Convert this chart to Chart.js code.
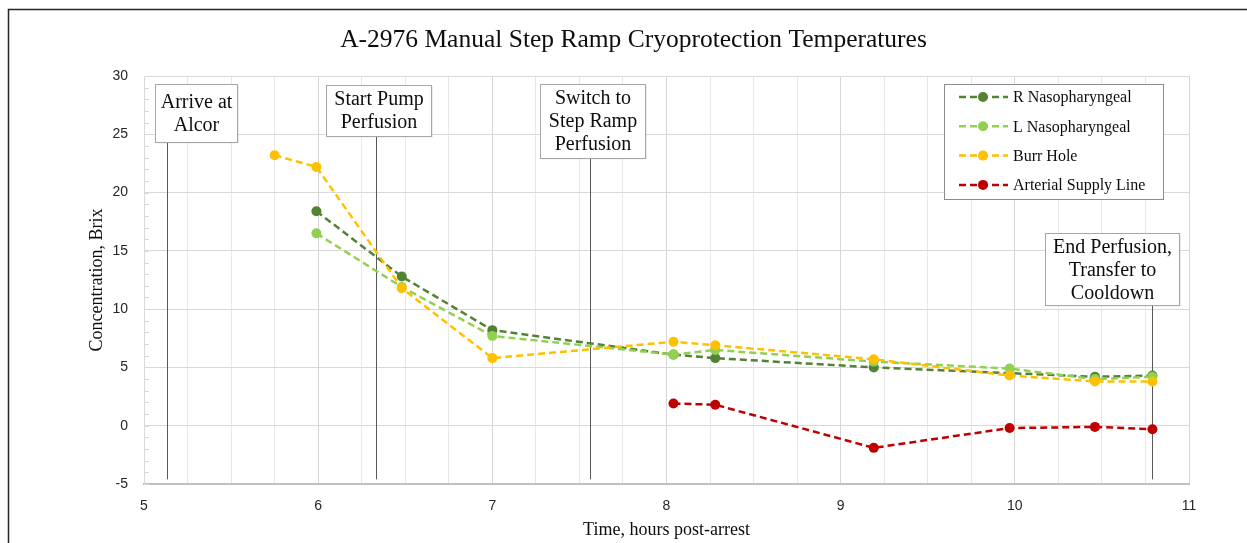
<!DOCTYPE html>
<html>
<head>
<meta charset="utf-8">
<script src="https://cdn.jsdelivr.net/npm/chart.js@4.4.1/dist/chart.umd.min.js"></script>
<style>
  html, body { margin: 0; padding: 0; background: #fff; }
  #wrap { width: 1247px; height: 543px; position: relative; }
</style>
</head>
<body>
<div id="wrap"><canvas id="chart" width="1247" height="543"></canvas></div>
<script>
// Data
const times = [5.75, 5.99, 6.48, 7.0, 8.04, 8.28, 9.19, 9.97, 10.46, 10.79];
const rNaso = [null, 18.4, 12.8, 8.2, 6.1, 5.8, 5.0, null, 4.2, 4.3];
const lNaso = [null, 16.5, 11.9, 7.7, 6.1, 6.5, 5.5, 4.9, 4.0, 4.2];
const burrHole = [23.2, 22.2, 11.8, 5.8, 7.2, 6.9, 5.7, 4.3, 3.8, 3.8];
const arterial = [null, null, null, null, 1.9, 1.8, -1.9, -0.2, -0.1, -0.3];
const seriesNames = ['R Nasopharyngeal', 'L Nasopharyngeal', 'Burr Hole', 'Arterial Supply Line'];
const seriesColors = ['#548235', '#92D050', '#FFC000', '#C00000'];

const eventTimes = [5.13, 6.33, 7.56, 10.79];
const eventLabels = [
  ['Arrive at', 'Alcor'],
  ['Start Pump', 'Perfusion'],
  ['Switch to', 'Step Ramp', 'Perfusion'],
  ['End Perfusion,', 'Transfer to', 'Cooldown']
];
const xTicks = [5, 6, 7, 8, 9, 10, 11];
const yTicks = [-5, 0, 5, 10, 15, 20, 25, 30];

const SERIF = '"Liberation Serif", "Times New Roman", serif';
const SANS = '"Liberation Sans", Arial, sans-serif';

function toPoints(vals) {
  return times.map((t, i) => ({ x: t, y: vals[i] })).filter(p => p.y !== null);
}

const allSeries = [rNaso, lNaso, burrHole, arterial];
const datasets = allSeries.map((vals, i) => ({
  label: seriesNames[i],
  data: toPoints(vals),
  showLine: true,
  borderColor: seriesColors[i],
  backgroundColor: seriesColors[i],
  borderWidth: 2.5,
  borderDash: [7, 4],
  pointRadius: 5,
  pointHoverRadius: 5,
  pointBorderWidth: 0,
  tension: 0,
  order: 4 - i
}));

// box layout for the event callouts (pixels)
const boxStyle = [
  { dx: 28, top: 84, padTop: 19, padBottom: 16, w: 82 },
  { dx: 1.5, top: 85, padTop: 15, padBottom: 13, w: 105 },
  { dx: 1.5, top: 84, padTop: 15, padBottom: 13, w: 105 },
  { dx: -41, top: 233, padTop: 15, padBottom: 11, w: 134 }
];
const LINE_H = 23;

const framePlugin = {
  id: 'frame',
  beforeDraw(chart) {
    const ctx = chart.ctx;
    ctx.save();
    ctx.fillStyle = '#fff';
    ctx.fillRect(0, 0, chart.width, chart.height);
    ctx.strokeStyle = '#262626';
    ctx.lineWidth = 1.5;
    ctx.beginPath();
    ctx.moveTo(8.5, chart.height);
    ctx.lineTo(8.5, 9.5);
    ctx.lineTo(chart.width, 9.5);
    ctx.stroke();
    ctx.restore();
  },
  beforeDatasetsDraw(chart) {
    const ctx = chart.ctx;
    const xs = chart.scales.x, ys = chart.scales.y;
    // minor ticks on y axis
    ctx.save();
    ctx.strokeStyle = '#d9d9d9';
    ctx.lineWidth = 1;
    for (let v = -5; v <= 30; v++) {
      const py = Math.round(ys.getPixelForValue(v)) + 0.5;
      ctx.beginPath();
      ctx.moveTo(xs.left, py);
      ctx.lineTo(xs.left + 5, py);
      ctx.stroke();
    }
    // event lines and callouts
    eventTimes.forEach((t, i) => {
      const s = boxStyle[i];
      const px = Math.round(xs.getPixelForValue(t)) + 0.5;
      const lines = eventLabels[i];
      const h = s.padTop + (lines.length - 1) * LINE_H + s.padBottom;
      const bottom = s.top + h;
      ctx.strokeStyle = '#595959';
      ctx.lineWidth = 1;
      ctx.beginPath();
      ctx.moveTo(px, bottom);
      ctx.lineTo(px, ys.getPixelForValue(-4.6));
      ctx.stroke();
      const cx = px + s.dx;
      const left = Math.round(cx - s.w / 2) + 0.5;
      ctx.fillStyle = 'rgba(0,0,0,0.08)';
      ctx.fillRect(left + 1.5, s.top + 1.5, s.w, h);
      ctx.fillStyle = '#fff';
      ctx.fillRect(left, s.top + 0.5, s.w, h);
      ctx.strokeStyle = '#a6a6a6';
      ctx.strokeRect(left, s.top + 0.5, s.w, h);
      ctx.fillStyle = '#0d0d0d';
      ctx.font = '20px ' + SERIF;
      ctx.textAlign = 'center';
      ctx.textBaseline = 'middle';
      lines.forEach((ln, k) => {
        ctx.fillText(ln, left + s.w / 2, s.top + s.padTop + k * LINE_H);
      });
    });
    ctx.restore();
  },
  afterDraw(chart) {
    // legend box inside plot
    const ctx = chart.ctx;
    ctx.save();
    const bx = 944.5, by = 84.5, bw = 219, bh = 115;
    ctx.fillStyle = '#fff';
    ctx.fillRect(bx, by, bw, bh);
    ctx.strokeStyle = '#8c8c8c';
    ctx.lineWidth = 1;
    ctx.strokeRect(bx, by, bw, bh);
    chart.data.datasets.forEach((ds, i) => {
      const y = 97 + i * 29.3;
      ctx.strokeStyle = ds.borderColor;
      ctx.lineWidth = 2.5;
      ctx.setLineDash([7, 4]);
      ctx.beginPath();
      ctx.moveTo(959, y);
      ctx.lineTo(1008, y);
      ctx.stroke();
      ctx.setLineDash([]);
      ctx.fillStyle = ds.backgroundColor;
      ctx.beginPath();
      ctx.arc(983, y, 5, 0, Math.PI * 2);
      ctx.fill();
      ctx.fillStyle = '#0d0d0d';
      ctx.font = '16px ' + SERIF;
      ctx.textAlign = 'left';
      ctx.textBaseline = 'middle';
      ctx.fillText(ds.label, 1013, y + 1);
    });
    ctx.restore();
  }
};

new Chart(document.getElementById('chart'), {
  type: 'scatter',
  data: { datasets },
  options: {
    responsive: false,
    animation: false,
    events: [],
    layout: { padding: { left: 78, right: 58, top: 0, bottom: 0 } },
    plugins: {
      legend: { display: false },
      tooltip: { enabled: false },
      title: {
        display: true,
        text: 'A-2976 Manual Step Ramp Cryoprotection Temperatures',
        color: '#0d0d0d',
        font: { family: SERIF, size: 25.5, weight: 'normal' },
        padding: { top: 25, bottom: 20.4 }
      }
    },
    scales: {
      x: {
        type: 'linear',
        min: 5,
        max: 11,
        afterBuildTicks: (scale) => {
          const t = [];
          for (let v = 5; v <= 11.001; v += 0.25) t.push({ value: Math.round(v * 100) / 100 });
          scale.ticks = t;
        },
        afterFit: (scale) => { scale.height = 59; },
        ticks: {
          autoSkip: false,
          maxRotation: 0,
          padding: 14,
          color: '#262626',
          font: { family: SANS, size: 14 },
          callback: (v) => xTicks.includes(v) ? String(v) : ''
        },
        grid: {
          drawTicks: false,
          color: (c) => (c.tick && xTicks.includes(c.tick.value)) ? '#d6d6d6' : '#e8e8e8',
          lineWidth: 1
        },
        border: { color: '#bfbfbf', width: 2 },
        title: {
          display: true,
          text: 'Time, hours post-arrest',
          color: '#0d0d0d',
          font: { family: SERIF, size: 18, weight: 'normal' },
          padding: { top: 0, bottom: 2.2 }
        }
      },
      y: {
        min: -5,
        max: 30,
        afterBuildTicks: (scale) => { scale.ticks = yTicks.map(v => ({ value: v })); },
        afterFit: (scale) => { scale.width = 66; },
        ticks: {
          padding: 16,
          color: '#262626',
          font: { family: SANS, size: 14 }
        },
        grid: { drawTicks: false, color: '#d9d9d9', lineWidth: 1 },
        border: { color: '#d9d9d9', width: 1 },
        title: {
          display: true,
          text: 'Concentration, Brix',
          color: '#0d0d0d',
          font: { family: SERIF, size: 18, weight: 'normal' },
          padding: { top: 8.2, bottom: 0 }
        }
      }
    }
  },
  plugins: [framePlugin]
});
</script>
</body>
</html>
